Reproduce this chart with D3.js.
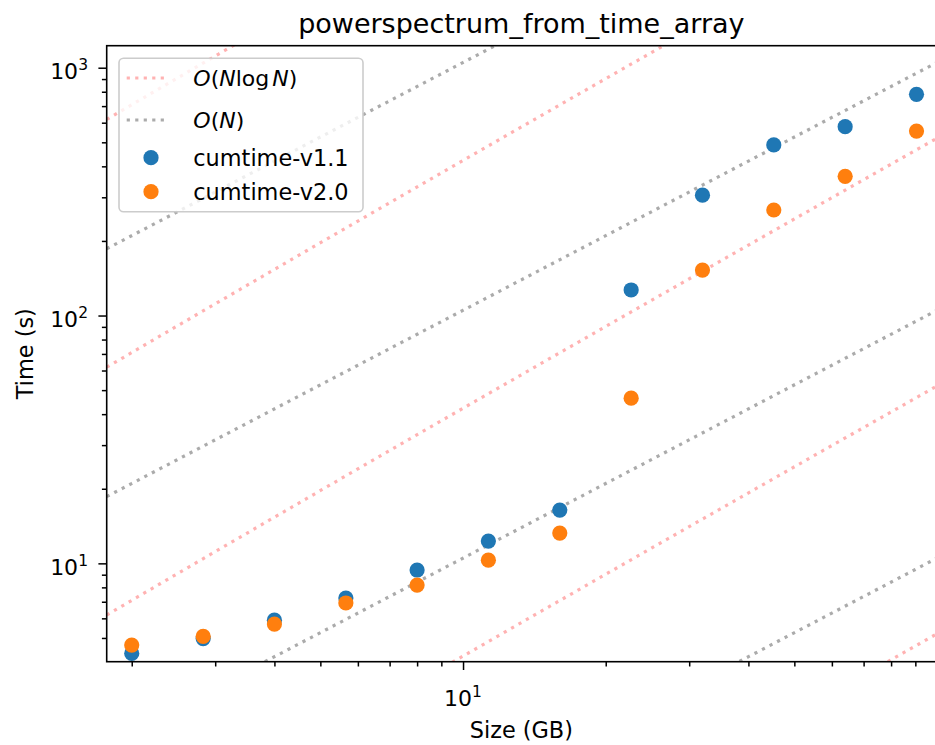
<!DOCTYPE html>
<html>
<head>
<meta charset="utf-8">
<script src="https://cdn.jsdelivr.net/npm/d3@7"></script>
<style>
  body { margin: 0; background: #fff; }
  svg { font-family: "DejaVu Sans", sans-serif; }
</style>
</head>
<body>
<div id="chart"></div>
<script>
// data (log-log)
const sizes = [2, 2.83, 4, 5.66, 8, 11.31, 16, 22.63, 32, 45.25, 64, 90.51];
const timeV11 = [4.33, 4.97, 5.90, 7.24, 9.40, 12.3, 16.4, 126.8, 306, 488, 578, 781];
const timeV20 = [4.68, 5.07, 5.69, 6.92, 8.17, 10.3, 13.25, 46.4, 152.6, 266.6, 364.5, 555];
const seriesNames = ["cumtime-v1.1", "cumtime-v2.0"];
const seriesColors = ["#1f77b4", "#ff7f0e"];

// guide lines: O(N) = c*N, O(N log N) = c*N*ln(k*N)
const linearCoeffs = [0.105, 1.05, 10.5, 105, 1050];
const nlognCoeffs = [0.004225, 0.04225, 0.4225, 4.225, 42.25];
const nlognK = 2200;

const xDomain = [1.771, 99.5];
const yDomain = [4.01, 1227];
const xMajor = [10];
const yMajor = [10, 100, 1000];

const W = 935, H = 745;
const m = { left: 106.7, right: 936, top: 45.7, bottom: 661.7 };

const svg = d3.select("#chart").append("svg")
  .attr("width", W).attr("height", H);

const x = d3.scaleLog().domain(xDomain).range([m.left, m.right]);
const y = d3.scaleLog().domain(yDomain).range([m.bottom, m.top]);

svg.append("defs").append("clipPath").attr("id", "clip")
  .append("rect")
  .attr("x", m.left).attr("y", m.top)
  .attr("width", m.right - m.left).attr("height", m.bottom - m.top);

const plot = svg.append("g").attr("clip-path", "url(#clip)");

// sample x along the domain for the guide curves
const xs = d3.range(0, 201).map(i => Math.pow(10,
  Math.log10(xDomain[0]) + (Math.log10(xDomain[1]) - Math.log10(xDomain[0])) * i / 200));

const line = d3.line().x(d => x(d[0])).y(d => y(d[1]));

const redStyle = g => g.attr("fill", "none").attr("stroke", "red")
  .attr("stroke-opacity", 0.3).attr("stroke-width", 3.2)
  .attr("stroke-dasharray", "3.2 5.3");
const grayStyle = g => g.attr("fill", "none").attr("stroke", "#000")
  .attr("stroke-opacity", 0.33).attr("stroke-width", 3.2)
  .attr("stroke-dasharray", "3.2 5.3");

plot.append("g").selectAll("path")
  .data(nlognCoeffs)
  .join("path")
  .call(redStyle)
  .attr("d", c => line(xs.map(v => [v, c * v * Math.log(nlognK * v)])));

plot.append("g").selectAll("path")
  .data(linearCoeffs)
  .join("path")
  .call(grayStyle)
  .attr("d", c => line(xs.map(v => [v, c * v])));

// scatter
[timeV11, timeV20].forEach((ys, si) => {
  plot.append("g").selectAll("circle")
    .data(sizes.map((s, i) => [s, ys[i]]))
    .join("circle")
    .attr("cx", d => x(d[0]))
    .attr("cy", d => y(d[1]))
    .attr("r", 7.6)
    .attr("fill", seriesColors[si]);
});

// axes (major + minor ticks)
const isMajor = v => Math.abs(Math.log10(v) - Math.round(Math.log10(v))) < 1e-9;
const xMinor = x.ticks().filter(v => !isMajor(v));
const yMinor = y.ticks().filter(v => !isMajor(v));

const styleAxis = g => {
  g.select(".domain").remove();
  g.selectAll("line").attr("stroke", "#000").attr("stroke-width", 1.5);
  g.selectAll("text").remove();
};

svg.append("g").attr("transform", `translate(0,${m.bottom})`)
  .call(d3.axisBottom(x).tickValues(xMajor).tickSize(8.3).tickFormat(""))
  .call(styleAxis);
svg.append("g").attr("transform", `translate(0,${m.bottom})`)
  .call(d3.axisBottom(x).tickValues(xMinor).tickSize(4.8).tickFormat(""))
  .call(styleAxis);
svg.append("g").attr("transform", `translate(${m.left},0)`)
  .call(d3.axisLeft(y).tickValues(yMajor).tickSize(8.3).tickFormat(""))
  .call(styleAxis);
svg.append("g").attr("transform", `translate(${m.left},0)`)
  .call(d3.axisLeft(y).tickValues(yMinor).tickSize(4.8).tickFormat(""))
  .call(styleAxis);

// frame
svg.append("rect")
  .attr("x", m.left).attr("y", m.top)
  .attr("width", m.right - m.left).attr("height", m.bottom - m.top)
  .attr("fill", "none").attr("stroke", "#000").attr("stroke-width", 1.6);

// tick labels 10^k
const powLabel = (sel, v) => {
  sel.append("tspan").text("10");
  sel.append("tspan").attr("dy", -9).attr("font-size", 15.5).text(Math.round(Math.log10(v)));
};
xMajor.forEach(v => {
  svg.append("text")
    .attr("x", x(v)).attr("y", 705.7)
    .attr("text-anchor", "middle").attr("font-size", 22).attr("fill", "#000")
    .call(powLabel, v);
});
yMajor.forEach(v => {
  svg.append("text")
    .attr("x", 88).attr("y", y(v) + 11.6)
    .attr("text-anchor", "end").attr("font-size", 22).attr("fill", "#000")
    .call(powLabel, v);
});

// axis labels + title
svg.append("text")
  .attr("x", (m.left + m.right) / 2).attr("y", 738)
  .attr("text-anchor", "middle").attr("font-size", 22.4)
  .text("Size (GB)");
svg.append("text")
  .attr("transform", `translate(33,${(m.top + m.bottom) / 2}) rotate(-90)`)
  .attr("text-anchor", "middle").attr("font-size", 22.4)
  .text("Time (s)");
svg.append("text")
  .attr("x", (m.left + m.right) / 2).attr("y", 33)
  .attr("text-anchor", "middle").attr("font-size", 27)
  .text("powerspectrum_from_time_array");

// legend
const lg = svg.append("g");
lg.append("rect")
  .attr("x", 119).attr("y", 58.3).attr("width", 244).attr("height", 153.4)
  .attr("rx", 4.5)
  .attr("fill", "#fff").attr("fill-opacity", 0.8)
  .attr("stroke", "#cccccc").attr("stroke-width", 1.6);

const legendRows = [
  { kind: "red", y: 78 },
  { kind: "gray", y: 120 },
  { kind: 0, y: 157.7 },
  { kind: 1, y: 191.7 }
];
legendRows.forEach(r => {
  if (r.kind === "red" || r.kind === "gray") {
    lg.append("path")
      .attr("d", `M126.7,${r.y}H168.3`)
      .call(r.kind === "red" ? redStyle : grayStyle);
    const t = lg.append("text").attr("x", 193.3).attr("y", r.y).attr("dy", "0.36em")
      .attr("font-size", 22);
    if (r.kind === "red") {
      t.append("tspan").attr("font-style", "italic").text("O");
      t.append("tspan").text("(");
      t.append("tspan").attr("font-style", "italic").text("N");
      t.append("tspan").text("log");
      t.append("tspan").attr("dx", 3).attr("font-style", "italic").text("N");
      t.append("tspan").text(")");
    } else {
      t.append("tspan").attr("font-style", "italic").text("O");
      t.append("tspan").text("(");
      t.append("tspan").attr("font-style", "italic").text("N");
      t.append("tspan").text(")");
    }
  } else {
    lg.append("circle").attr("cx", 151).attr("cy", r.y).attr("r", 7.6)
      .attr("fill", seriesColors[r.kind]);
    lg.append("text").attr("x", 193.3).attr("y", r.y).attr("dy", "0.36em")
      .attr("font-size", 22.4).text(seriesNames[r.kind]);
  }
});
</script>
</body>
</html>
